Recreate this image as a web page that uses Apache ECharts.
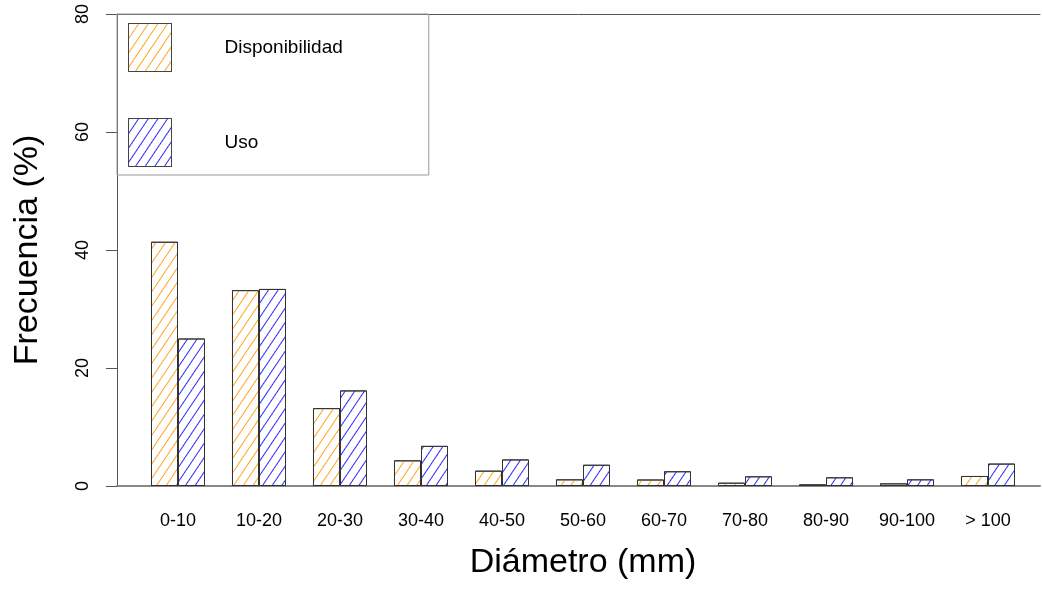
<!DOCTYPE html>
<html>
<head>
<meta charset="utf-8">
<script src="https://cdn.jsdelivr.net/npm/echarts@6/dist/echarts.min.js"></script>
<style>
html,body{margin:0;padding:0;background:#fff;}
#chart{width:1042px;height:590px;}
</style>
</head>
<body>
<div id="chart"></div>
<script>
const categories = ['0-10','10-20','20-30','30-40','40-50','50-60','60-70','70-80','80-90','90-100','> 100'];
const disponibilidad = [41.4, 33.2, 13.2, 4.35, 2.6, 1.13, 1.1, 0.56, 0.28, 0.45, 1.7];
const uso = [25.0, 33.4, 16.2, 6.8, 4.5, 3.6, 2.5, 1.64, 1.47, 1.13, 3.8];
const yMin = 0, yMax = 80, yInterval = 20;

const FONT = 'Liberation Sans, Arial, Helvetica, sans-serif';
function hatch(color){
  return {symbol:'rect', symbolSize:1, dashArrayX:[1,0], dashArrayY:[1,6.3], rotation:-0.98, color:color};
}
const chart = echarts.init(document.getElementById('chart'));
chart.setOption({
  animation:false,
  backgroundColor:'#fff',
  textStyle:{fontFamily:FONT},
  legend:{
    data:['Disponibilidad','Uso'],
    orient:'vertical', left:117, top:14,
    itemWidth:43, itemHeight:48, itemGap:46,
    padding:[9,86,8,11],
    borderColor:'#999', borderWidth:1,
    icon:'rect',
    itemStyle:{borderWidth:1, borderColor:'#444'},
    textStyle:{fontSize:19, color:'#000', padding:[0,0,0,48], fontFamily:FONT}
  },
  grid:[
    {left:137.5, right:13.5, top:14, bottom:104},
    {left:117, right:2, top:14, bottom:104}
  ],
  xAxis:[
    {type:'category', gridIndex:0, data:categories,
     axisLine:{show:false}, axisTick:{show:false},
     axisLabel:{fontSize:18, color:'#000', margin:26, fontFamily:FONT},
     name:'Diámetro (mm)', nameLocation:'middle', nameGap:60,
     nameTextStyle:{fontSize:34, color:'#000', fontFamily:FONT}},
    {type:'value', gridIndex:1, min:0, max:1, position:'bottom',
     axisLine:{show:true, lineStyle:{color:'#888', width:2}},
     axisTick:{show:false}, axisLabel:{show:false}, splitLine:{show:false}},
    {type:'value', gridIndex:1, min:0, max:1, position:'top',
     axisLine:{show:true, lineStyle:{color:'#555', width:1}},
     axisTick:{show:false}, axisLabel:{show:false}, splitLine:{show:false}}
  ],
  yAxis:[
    {type:'value', gridIndex:0, min:yMin, max:yMax, interval:yInterval, show:false},
    {type:'value', gridIndex:1, min:yMin, max:yMax, interval:yInterval,
     axisLine:{show:true, lineStyle:{color:'#555', width:1}},
     axisTick:{show:true, length:11, lineStyle:{color:'#555'}},
     splitLine:{show:false},
     axisLabel:{fontSize:18, color:'#000', rotate:90, margin:25, fontFamily:FONT},
     name:'Frecuencia (%)', nameLocation:'middle', nameGap:72, nameRotate:90,
     nameTextStyle:{fontSize:34, color:'#000', fontFamily:FONT}}
  ],
  series:[
    {name:'Disponibilidad', type:'bar', xAxisIndex:0, yAxisIndex:0, data:disponibilidad,
     barGap:'0%', barCategoryGap:'33.333%',
     itemStyle:{color:'#fff', borderColor:'#333', borderWidth:1, decal:hatch('#ffa520')}},
    {name:'Uso', type:'bar', xAxisIndex:0, yAxisIndex:0, data:uso,
     barGap:'0%', barCategoryGap:'33.333%',
     itemStyle:{color:'#fff', borderColor:'#333', borderWidth:1, decal:hatch('#2a2aff')}}
  ]
});
</script>
</body>
</html>
